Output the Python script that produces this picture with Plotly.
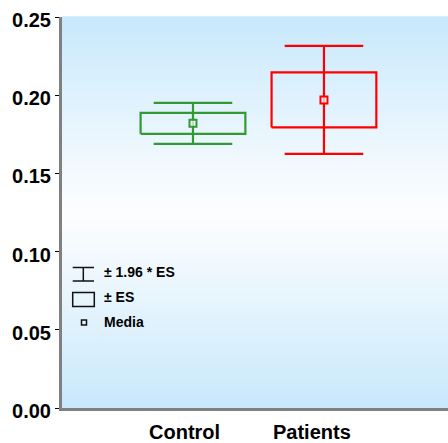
import plotly.graph_objects as go

categories = ["Control", "Patients"]
means = [0.182, 0.197]
se = [0.0067, 0.0176]
colors = ["#339933", "#ff0000"]
ytick_vals = [0.00, 0.05, 0.10, 0.15, 0.20, 0.25]
ytick_text = ["0.00", "0.05", "0.10", "0.15", "0.20", "0.25"]
legend_labels = ["± 1.96 * ES", "± ES", "Media"]

FONT = "Arial, Liberation Sans, sans-serif"
W, H = 448, 443
L, R, T, B = 62, 0, 17, 35
PW, PH = W - L - R, H - T - B

def px(x):
    return (x - L) / PW

def py(y):
    return (H - B - y) / PH

fig = go.Figure()
BOXW, CAPW = 0.4, 0.3
for i, (cat, m, s, c) in enumerate(zip(categories, means, se, colors)):
    lo, hi = m - s, m + s
    wlo, whi = m - 1.96 * s, m + 1.96 * s
    # whiskers
    fig.add_trace(go.Scatter(
        x=[i, i, None, i - CAPW, i + CAPW, None, i - CAPW, i + CAPW],
        y=[wlo, whi, None, whi, whi, None, wlo, wlo],
        mode="lines", line=dict(color=c, width=2.2), showlegend=False, hoverinfo="skip"))
    # box
    fig.add_trace(go.Scatter(
        x=[i - BOXW, i + BOXW, i + BOXW, i - BOXW, i - BOXW],
        y=[lo, lo, hi, hi, lo],
        mode="lines", line=dict(color=c, width=2.2), showlegend=False, hoverinfo="skip"))
    # mean
    fig.add_trace(go.Scatter(
        x=[i], y=[m], mode="markers",
        marker=dict(symbol="square", size=7, color="rgba(255,255,255,0.7)",
                    line=dict(color=c, width=2)),
        showlegend=False, name=cat))

shapes = []
# gradient background
N = 80
top = (200, 232, 252)
mid = (252, 253, 254)
for k in range(N):
    f0, f1 = k / N, (k + 1) / N
    fc = (f0 + f1) / 2  # from bottom
    d = abs(fc - 0.5) / 0.5
    d = min(1, d ** 1.1)
    col = tuple(round(mid[j] + (top[j] - mid[j]) * d) for j in range(3))
    shapes.append(dict(type="rect", xref="paper", yref="paper", x0=0, x1=1,
                       y0=f0, y1=f1 + 0.002, fillcolor="rgb(%d,%d,%d)" % col,
                       line=dict(width=0), layer="below"))

# legend symbols
lc = "#111111"
shapes.append(dict(type="line", xref="paper", yref="paper", x0=px(72.7), x1=px(94), y0=py(267.5), y1=py(267.5), line=dict(color=lc, width=1.5)))
shapes.append(dict(type="line", xref="paper", yref="paper", x0=px(72.7), x1=px(94), y0=py(281), y1=py(281), line=dict(color=lc, width=1.5)))
shapes.append(dict(type="line", xref="paper", yref="paper", x0=px(83.3), x1=px(83.3), y0=py(267.5), y1=py(281), line=dict(color=lc, width=1.5)))
shapes.append(dict(type="rect", xref="paper", yref="paper", x0=px(72.7), x1=px(94.3), y0=py(306.5), y1=py(292.5), line=dict(color=lc, width=1.5)))
shapes.append(dict(type="rect", xref="paper", yref="paper", x0=px(81.5), x1=px(86.5), y0=py(325), y1=py(320), line=dict(color=lc, width=1.5)))

annotations = []
for lab, yy in zip(legend_labels, [272, 297, 322]):
    annotations.append(dict(text="<b>%s</b>" % lab, xref="paper", yref="paper",
                            x=px(102), y=py(yy), xanchor="left", yanchor="middle",
                            showarrow=False, font=dict(family=FONT, size=14, color="black")))
for i, (cat, sh) in enumerate(zip(categories, [-8, -12])):
    annotations.append(dict(text="<b>%s</b>" % cat, xref="x", yref="paper",
                            x=i, xshift=sh, y=py(432), yanchor="middle", xanchor="center",
                            showarrow=False, font=dict(family=FONT, size=20, color="black")))

fig.update_layout(
    width=W, height=H, margin=dict(l=L, r=R, t=T, b=B, pad=0),
    paper_bgcolor="white", plot_bgcolor="white",
    shapes=shapes, annotations=annotations, showlegend=False,
    xaxis=dict(range=[-1.0, 1.947], showgrid=False, zeroline=False,
               showline=True, linecolor="#808080", linewidth=3,
               showticklabels=False, ticks=""),
    yaxis=dict(range=[0, 0.25], showgrid=False, zeroline=False,
               showline=True, linecolor="#808080", linewidth=3,
               tickvals=ytick_vals, ticktext=["<b>%s</b>" % t for t in ytick_text],
               ticks="outside", ticklen=4, tickwidth=1, tickcolor="black",
               ticklabelshift=3,
               tickfont=dict(family=FONT, size=20, color="black")),
)
fig.write_html("out.html")
